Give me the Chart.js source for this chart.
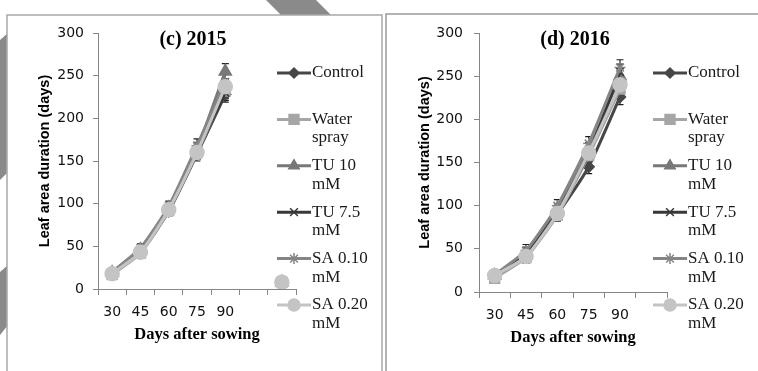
<!DOCTYPE html>
<html>
<head>
<meta charset="utf-8">
<title>Leaf area duration</title>
<script src="https://cdn.jsdelivr.net/npm/chart.js@4.4.1/dist/chart.umd.min.js"></script>
<style>
  html, body { margin: 0; padding: 0; background: #fff; }
  body { width: 758px; height: 371px; position: relative; overflow: hidden; }
  .panel { position: absolute; top: 0; height: 371px; }
  #wrap2015 { left: 0; width: 384px; }
  #wrap2016 { left: 384px; width: 374px; }
</style>
</head>
<body>
<div class="panel" id="wrap2015"><canvas id="chart2015"></canvas></div>
<div class="panel" id="wrap2016"><canvas id="chart2016"></canvas></div>
<script>
// x categories: days after sowing (blank slots were left in the sheet)
const days2015 = ['30', '45', '60', '75', '90', '', ''];
const days2016 = ['30', '45', '60', '75', '90', ''];
const yTicks = [0, 50, 100, 150, 200, 250, 300];
const seriesNames = [['Control'], ['Water', 'spray'], ['TU 10', 'mM'], ['TU 7.5', 'mM'], ['SA 0.10', 'mM'], ['SA 0.20', 'mM']];

// 2015 leaf area duration (days)
const control2015 = [18, 43, 91, 158, 228, null, 8];
const water2015   = [17, 42, 92, 160, 232, null, 8];
const tu10_2015   = [19, 46, 95, 164, 255, null, 8];
const tu75_2015   = [18, 45, 94, 162, 230, null, 8];
const sa010_2015  = [20, 48, 97, 168, 243, null, 8];
const sa020_2015  = [18, 43, 93, 160, 237, null, 8];
const err2015     = [5, 5, 6, 8, 9, null, 5];

// 2016 leaf area duration (days)
const control2016 = [17, 42, 90, 145, 226, null];
const water2016   = [16, 40, 89, 158, 235, null];
const tu10_2016   = [19, 45, 95, 165, 250, null];
const tu75_2016   = [18, 44, 93, 160, 255, null];
const sa010_2016  = [20, 48, 100, 172, 260, null];
const sa020_2016  = [19, 41, 91, 161, 240, null];
const err2016     = [6, 7, 7, 8, 9, null];

const styles = [
  { color: '#464646', pointStyle: 'rectRot', radius: 5.5, legendRadius: 5 },
  { color: '#a6a6a6', pointStyle: 'rect', radius: 7, legendRadius: 7 },
  { color: '#787878', pointStyle: 'triangle', radius: 7, legendRadius: 6 },
  { color: '#383838', pointStyle: 'crossRot', radius: 5.5, legendRadius: 5.5 },
  { color: '#858585', pointStyle: 'star', radius: 5.5, legendRadius: 5.5 },
  { color: '#c4c4c4', pointStyle: 'circle', radius: 7, legendRadius: 6 }
];

function makeDatasets(lists, errors) {
  return lists.map((values, i) => ({
    label: seriesNames[i].join(' '),
    data: values,
    errors: errors,
    borderColor: styles[i].color,
    backgroundColor: styles[i].color,
    borderWidth: 3,
    pointStyle: styles[i].pointStyle,
    pointRadius: styles[i].radius,
    pointBorderWidth: 1.5,
    pointBackgroundColor: styles[i].color,
    pointBorderColor: styles[i].color,
    legendRadius: styles[i].legendRadius,
    tension: 0.2,
    spanGaps: false,
    order: lists.length - i
  }));
}

// background stripes and the panel frame
const frame = {
  id: 'frame',
  beforeDraw(chart, args, opts) {
    const ctx = chart.ctx;
    ctx.save();
    ctx.fillStyle = '#8a8a8a';
    (opts.stripes || []).forEach(poly => {
      ctx.beginPath();
      poly.forEach((p, k) => k ? ctx.lineTo(p[0], p[1]) : ctx.moveTo(p[0], p[1]));
      ctx.closePath();
      ctx.fill();
    });
    const r = opts.rect;
    ctx.fillStyle = '#fff';
    ctx.fillRect(r[0], r[1], r[2], r[3]);
    ctx.strokeStyle = opts.color;
    ctx.lineWidth = 1.5;
    ctx.strokeRect(r[0], r[1], r[2], r[3]);
    ctx.restore();
  }
};

// error bars behind the markers
const errorBars = {
  id: 'errorBars',
  beforeDatasetsDraw(chart) {
    const ctx = chart.ctx;
    const y = chart.scales.y;
    ctx.save();
    ctx.strokeStyle = '#1e1e1e';
    ctx.lineWidth = 1.2;
    chart.data.datasets.forEach((ds, i) => {
      const meta = chart.getDatasetMeta(i);
      ds.data.forEach((v, j) => {
        if (v == null || ds.errors[j] == null) return;
        const x = meta.data[j].x;
        const top = y.getPixelForValue(v + ds.errors[j]);
        const bot = y.getPixelForValue(v - ds.errors[j]);
        ctx.beginPath();
        ctx.moveTo(x, top); ctx.lineTo(x, bot);
        ctx.moveTo(x - 3.5, top); ctx.lineTo(x + 3.5, top);
        ctx.moveTo(x - 3.5, bot); ctx.lineTo(x + 3.5, bot);
        ctx.stroke();
      });
    });
    ctx.restore();
  }
};

// legend down the right side, labels wrapped over two lines
const sideLegend = {
  id: 'sideLegend',
  afterDraw(chart, args, opts) {
    const ctx = chart.ctx;
    ctx.save();
    chart.data.datasets.forEach((ds, i) => {
      const y = opts.y0 + i * opts.step;
      ctx.strokeStyle = ds.borderColor;
      ctx.fillStyle = ds.borderColor;
      ctx.lineWidth = 3;
      ctx.beginPath();
      ctx.moveTo(opts.x, y);
      ctx.lineTo(opts.x + opts.lineLen, y);
      ctx.stroke();
      ctx.lineWidth = 1.5;
      Chart.helpers.drawPoint(ctx, {
        pointStyle: ds.pointStyle, radius: ds.legendRadius, rotation: 0, borderWidth: 1.5
      }, opts.x + opts.lineLen / 2, y);
      ctx.fillStyle = '#1a1a1a';
      ctx.font = '17px "Liberation Serif", "Times New Roman", serif';
      ctx.textBaseline = 'middle';
      ctx.textAlign = 'left';
      seriesNames[i].forEach((line, k) => {
        ctx.fillText(line, opts.x + opts.lineLen + 1, y + k * 18.5);
      });
    });
    ctx.restore();
  }
};

const panelTitle = {
  id: 'panelTitle',
  afterDraw(chart, args, opts) {
    const ctx = chart.ctx;
    ctx.save();
    ctx.fillStyle = '#000';
    ctx.font = 'bold 20px "Liberation Serif", "Times New Roman", serif';
    ctx.textAlign = 'center';
    ctx.textBaseline = 'middle';
    ctx.fillText(opts.text, opts.x, opts.y);
    ctx.restore();
  }
};

const axisGray = '#868686';
const tickFont = { family: '"DejaVu Sans", sans-serif', size: 14 };

function buildChart(id, labels, datasets, cfg) {
  return new Chart(document.getElementById(id), {
    type: 'line',
    data: { labels: labels, datasets: datasets },
    options: {
      responsive: true,
      maintainAspectRatio: false,
      animation: false,
      layout: { padding: { top: cfg.top, right: cfg.right, left: 0, bottom: 0 } },
      plugins: {
        legend: { display: false },
        tooltip: { enabled: false },
        frame: { rect: cfg.rect, stripes: cfg.stripes, color: cfg.frameColor },
        sideLegend: { x: cfg.legendX, y0: 73, step: 46.4, lineLen: 34 },
        panelTitle: { text: cfg.title, x: cfg.titleX, y: 40 }
      },
      scales: {
        x: {
          offset: true,
          grid: { offset: true, drawOnChartArea: false, tickLength: 6, color: axisGray },
          border: { color: axisGray, width: 1 },
          ticks: { font: tickFont, color: '#111', padding: cfg.xPad, maxRotation: 0, autoSkip: false },
          title: {
            display: true, text: 'Days after sowing', color: '#000',
            font: { family: '"Liberation Serif", "Times New Roman", serif', size: 16.5, weight: 'bold' },
            padding: { top: 0, bottom: cfg.xTitlePad }
          },
          afterFit: s => { s.height = cfg.xHeight; }
        },
        y: {
          min: 0, max: 300,
          afterBuildTicks: s => { s.ticks = yTicks.map(v => ({ value: v })); },
          grid: { drawOnChartArea: false, tickLength: 5, color: axisGray },
          border: { color: axisGray, width: 1 },
          ticks: { font: tickFont, color: '#111', padding: cfg.yPad },
          title: {
            display: true, text: 'Leaf area duration (days)', color: '#000',
            font: { family: '"Liberation Sans", Arial, sans-serif', size: 14.5, weight: 'bold' },
            padding: { top: cfg.yTitlePad, bottom: 0 }
          },
          afterFit: s => { s.width = cfg.yWidth; }
        }
      }
    },
    plugins: [frame, errorBars, sideLegend, panelTitle]
  });
}

buildChart('chart2015', days2015,
  makeDatasets([control2015, water2015, tu10_2015, tu75_2015, sa010_2015, sa020_2015], err2015), {
    top: 33, right: 88, yWidth: 98, xHeight: 82, xPad: 9, yPad: 9,
    yTitlePad: 36, xTitlePad: 26, legendX: 277, title: '(c) 2015', titleX: 193,
    rect: [7, 15, 375, 420], frameColor: '#a8a8a8',
    stripes: [
      [[266, 0], [316, 0], [332, 16], [282, 16]],
      [[0, 40], [8, 33], [8, 172], [0, 180]],
      [[0, 272], [8, 265], [8, 325], [0, 335]]
    ]
  });

buildChart('chart2016', days2016,
  makeDatasets([control2016, water2016, tu10_2016, tu75_2016, sa010_2016, sa020_2016], err2016), {
    top: 33, right: 91, yWidth: 95, xHeight: 79, xPad: 9, yPad: 11,
    yTitlePad: 32, xTitlePad: 23, legendX: 269, title: '(d) 2016', titleX: 191,
    rect: [2, 14, 420, 420], frameColor: '#9a9a9a',
    stripes: []
  });
</script>
</body>
</html>
